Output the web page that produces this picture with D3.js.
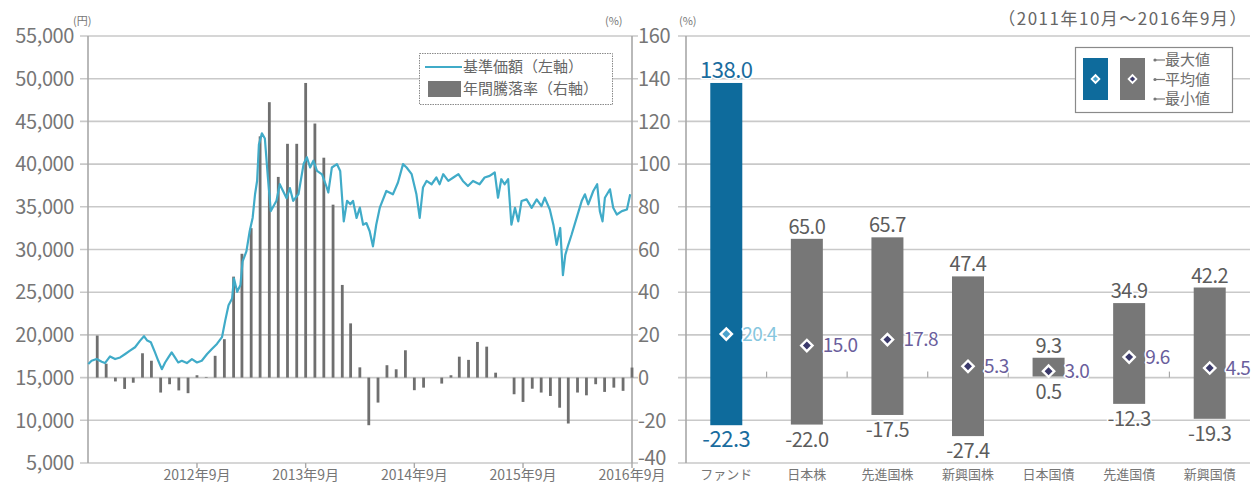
<!DOCTYPE html>
<html>
<head>
<meta charset="utf-8">
<script src="https://cdn.jsdelivr.net/npm/d3@7"></script>
<style>
  body { margin: 0; background: #fff; }
  svg { font-family: "Noto Sans CJK JP", "Noto Sans", sans-serif; }
</style>
</head>
<body>
<div id="chart"></div>
<script>
// --- 基準価額 (weekly-ish readings) ---
const navDates = [
  "2011-10-01","2011-10-12","2011-10-29","2011-11-15","2011-11-26","2011-12-13","2011-12-30",
  "2012-01-16","2012-02-02","2012-02-18","2012-03-06","2012-03-23","2012-04-05","2012-04-16",
  "2012-04-28","2012-05-12","2012-05-23","2012-06-04","2012-06-15","2012-06-26","2012-07-07",
  "2012-07-18","2012-07-29","2012-08-10","2012-08-27","2012-09-13","2012-09-30","2012-10-16",
  "2012-11-03","2012-11-19","2012-12-06","2012-12-23","2013-01-03","2013-01-14","2013-01-26",
  "2013-02-01","2013-02-12","2013-02-23","2013-03-02","2013-03-15","2013-03-26","2013-04-05",
  "2013-04-13","2013-04-20","2013-04-26","2013-05-06","2013-05-16","2013-05-26","2013-06-05",
  "2013-06-24","2013-07-05","2013-07-16","2013-07-28","2013-08-08","2013-08-19","2013-09-06",
  "2013-09-23","2013-10-04","2013-10-15","2013-10-26","2013-11-07","2013-11-24","2013-12-10",
  "2013-12-15","2013-12-27","2014-01-13","2014-01-24","2014-02-05","2014-02-16","2014-02-27",
  "2014-03-08","2014-03-20","2014-03-31","2014-04-11","2014-04-22","2014-05-03","2014-05-14",
  "2014-05-25","2014-06-06","2014-06-28","2014-07-20","2014-08-06","2014-08-23","2014-09-04",
  "2014-09-21","2014-10-07","2014-10-18","2014-10-29","2014-11-10","2014-11-27","2014-12-13",
  "2014-12-24","2015-01-05","2015-01-22","2015-02-08","2015-02-25","2015-03-12","2015-03-29",
  "2015-04-15","2015-05-07","2015-05-24","2015-06-10","2015-06-27","2015-07-08","2015-07-19",
  "2015-07-30","2015-08-11","2015-08-22","2015-09-03","2015-09-14","2015-09-25","2015-10-12",
  "2015-10-29","2015-11-15","2015-12-01","2015-12-12","2015-12-29","2016-01-10","2016-01-21",
  "2016-02-02","2016-02-11","2016-02-19","2016-02-29","2016-03-11","2016-03-28","2016-04-14",
  "2016-04-25","2016-05-06","2016-05-23","2016-06-05","2016-06-14","2016-06-23","2016-07-01",
  "2016-07-18","2016-07-29","2016-08-10","2016-08-27","2016-09-13","2016-09-24"
];
const navValues = [
  16600,16970,17170,16850,16700,17480,17170,
  17360,17760,18150,18550,19330,19850,19330,
  19140,17950,16970,15990,16770,17360,17950,
  17360,16770,16970,16700,17170,16770,16970,
  17760,18350,18940,19730,21700,23470,24260,
  26620,25050,25840,28590,29780,32140,33720,
  36470,38050,42300,43600,43000,38500,34500,
  35700,37650,36860,36000,37200,35700,36500,
  40000,40800,39600,40400,39200,38800,37260,
  36670,39600,40000,39200,33300,35700,35300,
  35700,33700,34900,32900,33100,32140,30370,
  32900,34900,36850,36460,37840,40000,39600,
  38820,36460,33700,37250,38030,37640,38430,
  37640,38820,38030,38430,38820,38030,37440,
  38030,37640,38430,38620,39020,36060,38230,
  37640,38230,32910,34880,33300,35670,35870,
  34880,35870,35080,36060,34680,32910,30550,
  32520,27000,29370,30550,31730,33700,35670,
  36460,35280,36850,37640,34490,33300,36060,
  37050,34880,34100,34490,34680,36460
];

// --- 年間騰落率 (%), month ends 2011/10 .. 2016/9 ---
const returnValues = [
  19.7, 6.5, -1.8, -5.3, -2.4, 11.4, 7.9, -7.0, -3.1, -6.0, -7.3, 1.1,
  0.3, 10.2, 18.0, 47.3, 58.0, 70.0, 113.0, 129.0, 94.0, 109.5, 109.5, 138.0,
  119.0, 103.0, 81.0, 43.4, 25.4, 4.8, -22.3, -11.7, 5.8, 3.9, 12.8, -5.9,
  -4.7, 0.0, -2.8, 1.1, 9.8, 8.3, 16.7, 14.5, 2.3, 0.0, -7.8, -11.4,
  -5.2, -7.0, -8.6, -14.1, -21.5, -7.0, -8.3, -3.1, -6.7, -4.7, -6.2, 4.7
];

const yenTicks = [5000,10000,15000,20000,25000,30000,35000,40000,45000,50000,55000];
const pctTicks = [-40,-20,0,20,40,60,80,100,120,140,160];
const yearTickDates = ["2012-09-30","2013-09-30","2014-09-30","2015-09-30","2016-09-30"];
const yearTickLabels = ["2012年9月","2013年9月","2014年9月","2015年9月","2016年9月"];

// --- 右: 騰落率の比較 ---
const assetNames = ["ファンド","日本株","先進国株","新興国株","日本国債","先進国債","新興国債"];
const maxValues = [138.0, 65.0, 65.7, 47.4, 9.3, 34.9, 42.2];
const avgValues = [20.4, 15.0, 17.8, 5.3, 3.0, 9.6, 4.5];
const minValues = [-22.3, -22.0, -17.5, -27.4, 0.5, -12.3, -19.3];

const W = 1257, H = 484;
const parse = d3.timeParse("%Y-%m-%d");
const grid = "#c9c9c9", axisCol = "#a8a8a8", txt = "#767676";
const blue = "#0e6b9c", gray = "#777777", teal = "#40abc8";

const svg = d3.select("#chart").append("svg")
  .attr("width", W).attr("height", H);

const yTop = 36, yBottom = 463;
const x = d3.scaleTime().domain([parse("2011-09-30"), parse("2016-09-30")]).range([88, 632]);
const yL = d3.scaleLinear().domain([5000, 55000]).range([yBottom, yTop]);
const yR = d3.scaleLinear().domain([-40, 160]).range([yBottom, yTop]);

// gridlines (left chart)
svg.append("g").selectAll("line").data(yenTicks).enter().append("line")
  .attr("x1", 80).attr("x2", 638)
  .attr("y1", d => yL(d)).attr("y2", d => yL(d))
  .attr("stroke", grid).attr("stroke-width", 1.6);

// axes lines
svg.append("line").attr("x1", 88).attr("x2", 88).attr("y1", yTop).attr("y2", yBottom)
  .attr("stroke", axisCol).attr("stroke-width", 1.6);
svg.append("line").attr("x1", 632).attr("x2", 632).attr("y1", yTop).attr("y2", yBottom)
  .attr("stroke", axisCol).attr("stroke-width", 1.6);

// left tick labels
svg.append("g").selectAll("text").data(yenTicks).enter().append("text")
  .attr("x", 74).attr("y", d => yL(d)).attr("dy", "0.36em")
  .attr("text-anchor", "end").attr("font-size", 20).attr("fill", txt)
  .attr("letter-spacing", -0.4)
  .text(d => d3.format(",")(d));

// right tick labels (between charts); lowest one nudged up to clear the date label
svg.append("g").selectAll("text").data(pctTicks).enter().append("text")
  .attr("x", 638).attr("y", d => yR(d) - (d === -40 ? 5 : 0)).attr("dy", "0.36em")
  .attr("font-size", 20).attr("fill", txt).attr("letter-spacing", -0.4)
  .text(d => d);

// bottom ticks & labels
const tickDates = yearTickDates.map(parse);
svg.append("g").selectAll("line").data(tickDates).enter().append("line")
  .attr("x1", d => x(d)).attr("x2", d => x(d)).attr("y1", yBottom).attr("y2", yBottom + 5)
  .attr("stroke", axisCol).attr("stroke-width", 1.4);
svg.append("g").selectAll("text").data(tickDates).enter().append("text")
  .attr("x", d => x(d)).attr("y", 480).attr("text-anchor", "middle")
  .attr("font-size", 14).attr("fill", txt)
  .text((d, i) => yearTickLabels[i]);

// annual return bars
const monthEnds = d3.timeMonth.range(parse("2011-10-01"), parse("2016-10-01"))
  .map(m => d3.timeDay.offset(d3.timeMonth.offset(m, 1), -1));
const bars = returnValues.map((v, i) => ({ date: monthEnds[i], value: v }));
svg.append("g").selectAll("rect").data(bars).enter().append("rect")
  .attr("x", d => x(d.date) - 1.4).attr("width", 2.8)
  .attr("y", d => yR(Math.max(0, d.value)))
  .attr("height", d => Math.abs(yR(d.value) - yR(0)))
  .attr("fill", "#6f6f6f");

// NAV line
const nav = navDates.map((d, i) => ({ date: parse(d), value: navValues[i] }));
svg.append("path").datum(nav)
  .attr("fill", "none").attr("stroke", teal).attr("stroke-width", 2.2)
  .attr("stroke-linejoin", "round")
  .attr("d", d3.line().x(d => x(d.date)).y(d => yL(d.value)));

// units
svg.append("text").attr("x", 73).attr("y", 25).attr("font-size", 11).attr("fill", txt).text("(円)");
svg.append("text").attr("x", 605).attr("y", 25).attr("font-size", 11).attr("fill", txt).text("(%)");
svg.append("text").attr("x", 679).attr("y", 25).attr("font-size", 11).attr("fill", txt).text("(%)");

// left legend
const lg = svg.append("g");
lg.append("rect").attr("x", 419.5).attr("y", 53.5).attr("width", 193).attr("height", 51)
  .attr("fill", "#fff").attr("stroke", "#8a8a8a").attr("stroke-dasharray", "1.5,1");
lg.append("line").attr("x1", 425).attr("x2", 462).attr("y1", 67).attr("y2", 67)
  .attr("stroke", teal).attr("stroke-width", 2);
lg.append("rect").attr("x", 428).attr("y", 81).attr("width", 33).attr("height", 16).attr("fill", gray);
lg.append("text").attr("x", 463).attr("y", 67).attr("dy", "0.36em")
  .attr("font-size", 15).attr("fill", "#666").text("基準価額（左軸）");
lg.append("text").attr("x", 463).attr("y", 89).attr("dy", "0.36em")
  .attr("font-size", 15).attr("fill", "#666").text("年間騰落率（右軸）");

// ---------- right chart ----------
const xc = d3.scalePoint().domain(assetNames).range([686, 1250]).padding(0.5);
const step = xc.step();
const bw = 32;

svg.append("g").selectAll("line").data(pctTicks).enter().append("line")
  .attr("x1", 678).attr("x2", 1250)
  .attr("y1", d => yR(d)).attr("y2", d => yR(d))
  .attr("stroke", grid).attr("stroke-width", 1.6);
svg.append("line").attr("x1", 686).attr("x2", 686).attr("y1", yTop).attr("y2", yBottom)
  .attr("stroke", axisCol).attr("stroke-width", 1.6);

// small separators on zero line
svg.append("g").selectAll("line").data(assetNames.slice(1)).enter().append("line")
  .attr("x1", d => xc(d) - step / 2).attr("x2", d => xc(d) - step / 2)
  .attr("y1", yR(0) - 6).attr("y2", yR(0))
  .attr("stroke", axisCol).attr("stroke-width", 1.2);

const assets = assetNames.map((n, i) => ({ name: n, max: maxValues[i], avg: avgValues[i], min: minValues[i], fund: i === 0 }));

svg.append("g").selectAll("rect").data(assets).enter().append("rect")
  .attr("x", d => xc(d.name) - bw / 2).attr("width", bw)
  .attr("y", d => yR(d.max)).attr("height", d => yR(d.min) - yR(d.max))
  .attr("fill", d => d.fund ? blue : gray);

const diamond = d3.symbol().type(d3.symbolSquare).size(64);
svg.append("g").selectAll("path").data(assets).enter().append("path")
  .attr("d", diamond)
  .attr("transform", d => `translate(${xc(d.name)},${yR(d.avg)}) rotate(45)`)
  .attr("fill", d => d.fund ? "#4aa2cc" : "#3b3a6c")
  .attr("stroke", "#fff").attr("stroke-width", 2.4);

const labels = svg.append("g").attr("paint-order", "stroke")
  .attr("stroke", "#fff").attr("stroke-width", 3).attr("stroke-linejoin", "round");

labels.selectAll(".max").data(assets).enter().append("text")
  .attr("x", d => xc(d.name)).attr("y", d => yR(d.max) - 5)
  .attr("text-anchor", "middle")
  .attr("font-size", d => d.fund ? 22 : 20)
  .attr("fill", d => d.fund ? "#1a6c9e" : "#5c5c5c")
  .attr("letter-spacing", -0.5)
  .text(d => d.max.toFixed(1));

labels.selectAll(".min").data(assets).enter().append("text")
  .attr("x", d => xc(d.name)).attr("y", d => yR(d.min) + 22)
  .attr("text-anchor", "middle")
  .attr("font-size", d => d.fund ? 22 : 20)
  .attr("fill", d => d.fund ? "#1a6c9e" : "#5c5c5c")
  .attr("letter-spacing", -0.5)
  .text(d => d.min.toFixed(1));

labels.selectAll(".avg").data(assets).enter().append("text")
  .attr("x", d => xc(d.name) + 16).attr("y", d => yR(d.avg)).attr("dy", "0.36em")
  .attr("font-size", 19)
  .attr("fill", d => d.fund ? "#86c6de" : "#6a5e9c")
  .attr("letter-spacing", -0.6)
  .text(d => d.avg.toFixed(1));

// category labels
svg.append("g").selectAll("text").data(assetNames).enter().append("text")
  .attr("x", d => xc(d)).attr("y", 479).attr("text-anchor", "middle")
  .attr("font-size", 13).attr("fill", txt).text(d => d);

// period note
svg.append("text").attr("x", 1248).attr("y", 25).attr("text-anchor", "end")
  .attr("font-size", 17).attr("fill", "#666").attr("letter-spacing", 1.5)
  .text("（2011年10月～2016年9月）");

// right legend
const rg = svg.append("g");
rg.append("rect").attr("x", 1075.5).attr("y", 47.5).attr("width", 157).attr("height", 65)
  .attr("fill", "#fff").attr("stroke", "#8a8a8a").attr("stroke-width", 1.2);
rg.append("rect").attr("x", 1083).attr("y", 58).attr("width", 25).attr("height", 42).attr("fill", blue);
rg.append("rect").attr("x", 1120).attr("y", 58).attr("width", 25).attr("height", 42).attr("fill", gray);
const smallDiamond = d3.symbol().type(d3.symbolSquare).size(30);
rg.append("path").attr("d", smallDiamond).attr("transform", "translate(1095.5,79) rotate(45)")
  .attr("fill", "#4aa2cc").attr("stroke", "#fff").attr("stroke-width", 1.8);
rg.append("path").attr("d", smallDiamond).attr("transform", "translate(1132.5,79) rotate(45)")
  .attr("fill", "#3b3a6c").attr("stroke", "#fff").attr("stroke-width", 1.8);
["最大値", "平均値", "最小値"].forEach((t, i) => {
  const cy = 60 + i * 19.5;
  rg.append("circle").attr("cx", 1155).attr("cy", cy).attr("r", 1.6).attr("fill", "#777");
  rg.append("line").attr("x1", 1156).attr("x2", 1165).attr("y1", cy).attr("y2", cy)
    .attr("stroke", "#777").attr("stroke-width", 1.2);
  rg.append("text").attr("x", 1165).attr("y", cy).attr("dy", "0.36em")
    .attr("font-size", 15).attr("fill", "#6e6e6e").text(t);
});
</script>
</body>
</html>
